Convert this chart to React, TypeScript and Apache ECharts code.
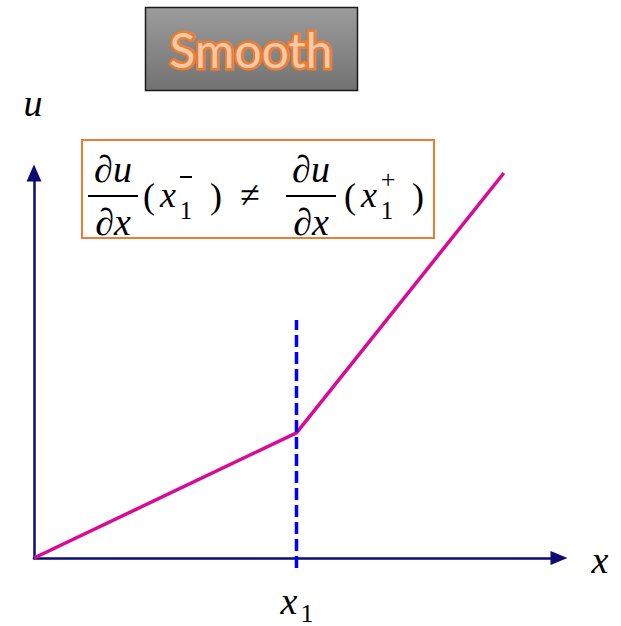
import React, { useEffect, useRef } from "react";
import * as echarts from "echarts";

const xs: number[] = [0, 5, 8.95];
const uVals: number[] = [0, 3.25, 10];
const kinkX: number = 5;
const dashedRange: number[] = [-0.26, 6.18];
const titleText = "Smooth";

const NAVY = "#0B0B72";
const ORANGE = "#ED7D31";
const MATH_FONT = "Liberation Serif";

export default function App() {
  const ref = useRef<HTMLDivElement>(null);
  useEffect(() => {
    if (!ref.current) return;
    const chart = echarts.init(ref.current, null, { renderer: "svg" });
    const t = (text: string, x: number, y: number, size: number, italic = true) => ({
      type: "text",
      x,
      y,
      style: {
        text,
        font: `${italic ? "italic " : ""}${size}px "${MATH_FONT}", serif`,
        fill: "#000",
        align: "center",
        verticalAlign: "middle",
      },
    });
    const up = (text: string, x: number, y: number, size: number) =>
      t(text, x, y, size, false);
    const bar = (x1: number, x2: number, y: number, w = 2) => ({
      type: "line",
      shape: { x1, y1: y, x2, y2: y },
      style: { stroke: "#000", lineWidth: w },
    });
    chart.setOption({
      animation: false,
      backgroundColor: "#fff",
      grid: { left: 34, right: 62, top: 173, bottom: 68 },
      xAxis: {
        type: "value",
        min: 0,
        max: 10,
        axisLine: {
          show: true,
          lineStyle: { color: NAVY, width: 2.5 },
          symbol: ["none", "triangle"],
          symbolSize: [14, 17],
        },
        axisTick: { show: false },
        axisLabel: { show: false },
        splitLine: { show: false },
      },
      yAxis: {
        type: "value",
        min: 0,
        max: 10,
        axisLine: {
          show: true,
          onZero: false,
          lineStyle: { color: NAVY, width: 2.5 },
          symbol: ["none", "triangle"],
          symbolSize: [15, 17],
        },
        axisTick: { show: false },
        axisLabel: { show: false },
        splitLine: { show: false },
      },
      series: [
        {
          type: "line",
          data: xs.map((x, i) => [x, uVals[i]]),
          showSymbol: false,
          lineStyle: { color: "#D80B96", width: 3.5 },
          z: 3,
        },
        {
          type: "line",
          clip: false,
          data: dashedRange.map((v) => [kinkX, v]),
          showSymbol: false,
          lineStyle: { color: "#0000FF", width: 3.5, type: [12, 5] },
          z: 4,
        },
      ],
      graphic: [
        {
          type: "rect",
          shape: { x: 145.5, y: 7.5, width: 212, height: 83 },
          style: {
            fill: new echarts.graphic.LinearGradient(0, 0, 0, 1, [
              { offset: 0, color: "#9C9C9C" },
              { offset: 1, color: "#727272" },
            ]),
            stroke: "#1a1a1a",
            lineWidth: 1.5,
          },
        },
        {
          type: "text",
          x: 251,
          y: 49,
          style: {
            text: titleText,
            font: '48px "Lato", sans-serif',
            fill: "#F6C9A8",
            stroke: ORANGE,
            lineWidth: 5,
            align: "center",
            verticalAlign: "middle",
          },
          z: 10,
        },
        {
          type: "rect",
          shape: { x: 82, y: 140, width: 352, height: 98 },
          style: { fill: "none", stroke: ORANGE, lineWidth: 2 },
        },
        t("∂u", 113, 169, 38),
        bar(88, 138, 196),
        t("∂x", 113, 222, 38),
        up("(", 149, 196, 36),
        t("x", 168, 195, 36),
        up("1", 186, 210, 25),
        bar(180, 192, 177, 2),
        up(")", 216, 196, 36),
        up("≠", 250, 195, 36),
        t("∂u", 311, 169, 38),
        bar(286, 336, 196),
        t("∂x", 311, 222, 38),
        up("(", 350, 196, 36),
        t("x", 369, 195, 36),
        up("1", 387, 210, 25),
        up("+", 388, 179, 26),
        up(")", 418, 196, 36),
        t("u", 33, 103, 38),
        t("x", 600, 560, 38),
        t("x", 289, 601, 38),
        up("1", 307, 613, 26),
      ],
    });
    return () => chart.dispose();
  }, []);
  return (
    <div
      ref={ref}
      style={{ position: "fixed", left: 0, top: 0, width: 621, height: 626 }}
    />
  );
}
